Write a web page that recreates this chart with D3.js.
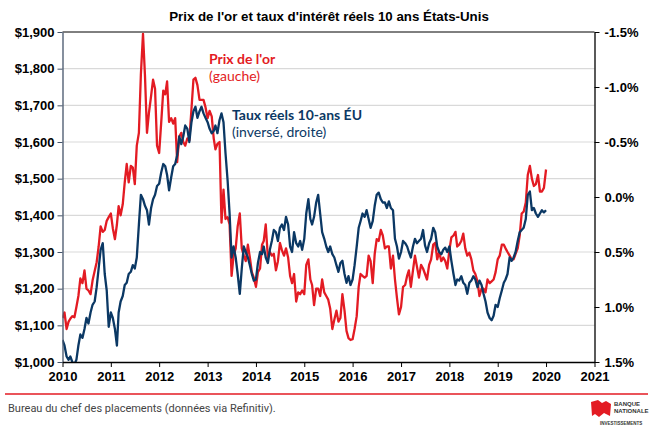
<!DOCTYPE html>
<html>
<head>
<meta charset="utf-8">
<script src="https://cdn.jsdelivr.net/npm/d3@7"></script>
<style>
  body { margin: 0; background: #fff; }
  svg text { font-family: "Liberation Sans", Arial, sans-serif; }
</style>
</head>
<body>
<div id="chart"></div>
<script>
// first year of the semi-monthly series (1st and 16th of each month)
const startYear = 2010;

// gold price, USD/oz, one row per year (24 half-month readings)
const goldPrice = [
  1120, 1135, 1090, 1110, 1118, 1125, 1122, 1150, 1180, 1228, 1215, 1250, 1200, 1195, 1185, 1222, 1248, 1272, 1315, 1370, 1355, 1360, 1385, 1395,
  1405, 1365, 1335, 1375, 1425, 1400, 1430, 1490, 1540, 1490, 1535, 1530, 1485, 1590, 1625, 1785, 1895, 1780, 1625, 1680, 1725, 1770, 1745, 1590,
  1570, 1650, 1740, 1730, 1765, 1655, 1665, 1650, 1665, 1545, 1615, 1625, 1600, 1590, 1610, 1605, 1690, 1770, 1775, 1755, 1715, 1715, 1715, 1695,
  1665, 1685, 1670, 1610, 1580, 1595, 1600, 1380, 1470, 1390, 1395, 1375, 1235, 1290, 1310, 1370, 1405, 1310, 1290, 1275, 1320, 1285, 1245, 1230,
  1205, 1245, 1255, 1320, 1330, 1375, 1285, 1300, 1290, 1295, 1250, 1275, 1325, 1305, 1290, 1310, 1285, 1235, 1215, 1240, 1165, 1190, 1185, 1195,
  1185, 1265, 1280, 1225, 1210, 1155, 1200, 1200, 1180, 1225, 1190, 1180, 1170, 1145, 1090, 1115, 1140, 1110, 1120, 1185, 1140, 1085, 1065, 1060,
  1062, 1090, 1125, 1205, 1240, 1235, 1230, 1235, 1290, 1275, 1215, 1295, 1335, 1330, 1360, 1345, 1310, 1315, 1315, 1255, 1290, 1225, 1175, 1130,
  1150, 1205, 1210, 1235, 1250, 1205, 1250, 1290, 1260, 1230, 1265, 1255, 1240, 1225, 1265, 1280, 1320, 1325, 1280, 1300, 1275, 1285, 1275, 1255,
  1305, 1340, 1345, 1355, 1315, 1320, 1330, 1350, 1310, 1290, 1298, 1280, 1250, 1240, 1220, 1180, 1200, 1200, 1190, 1225, 1215, 1220, 1225, 1245,
  1280, 1290, 1320, 1320, 1310, 1300, 1290, 1280, 1280, 1295, 1310, 1345, 1405, 1410, 1435, 1510, 1535, 1500, 1480, 1485, 1510, 1465, 1465, 1475,
  1525
];

// US 10-year real rate (TIPS), %, same dates
const realRate = [
  1.30, 1.35, 1.45, 1.48, 1.45, 1.50, 1.52, 1.48, 1.35, 1.25, 1.28, 1.20, 1.10, 1.15, 1.05, 0.98, 0.95, 0.82, 0.65, 0.48, 0.42, 0.70, 0.85, 1.18,
  1.05, 1.10, 1.20, 1.35, 1.05, 0.95, 0.90, 0.80, 0.78, 0.70, 0.68, 0.62, 0.65, 0.55, 0.25, -0.02, 0.02, 0.08, 0.12, 0.25, 0.10, 0.02, -0.02, -0.10,
  -0.12, -0.22, -0.30, -0.28, -0.20, -0.06, -0.18, -0.28, -0.30, -0.38, -0.55, -0.48, -0.55, -0.65, -0.62, -0.50, -0.68, -0.78, -0.82, -0.72, -0.78, -0.82, -0.76, -0.72,
  -0.68, -0.62, -0.58, -0.60, -0.65, -0.58, -0.70, -0.76, -0.68, -0.40, -0.15, 0.15, 0.55, 0.45, 0.55, 0.70, 0.88, 0.65, 0.45, 0.50, 0.55, 0.62, 0.70, 0.76,
  0.75, 0.60, 0.50, 0.52, 0.45, 0.55, 0.60, 0.48, 0.40, 0.30, 0.32, 0.40, 0.28, 0.25, 0.30, 0.18, 0.25, 0.45, 0.50, 0.32, 0.42, 0.45, 0.40, 0.48,
  0.38, 0.15, 0.02, 0.20, 0.25, 0.18, 0.05, -0.02, 0.15, 0.32, 0.38, 0.45, 0.50, 0.45, 0.52, 0.55, 0.62, 0.68, 0.60, 0.58, 0.70, 0.78, 0.72, 0.80,
  0.75, 0.62, 0.45, 0.28, 0.22, 0.15, 0.18, 0.12, 0.20, 0.28, 0.22, 0.08, -0.02, -0.04, 0.02, 0.05, 0.05, 0.10, 0.04, 0.10, 0.12, 0.38, 0.45, 0.56,
  0.50, 0.40, 0.42, 0.45, 0.50, 0.55, 0.45, 0.38, 0.42, 0.40, 0.38, 0.30, 0.44, 0.50, 0.42, 0.38, 0.28, 0.32, 0.45, 0.50, 0.52, 0.48, 0.46, 0.50,
  0.45, 0.58, 0.70, 0.80, 0.75, 0.76, 0.72, 0.78, 0.80, 0.88, 0.78, 0.76, 0.72, 0.75, 0.82, 0.76, 0.80, 0.88, 0.95, 1.05, 1.10, 1.12, 1.08, 0.98,
  1.00, 0.92, 0.85, 0.78, 0.75, 0.70, 0.55, 0.58, 0.55, 0.50, 0.40, 0.32, 0.30, 0.28, 0.20, -0.02, -0.05, 0.12, 0.10, 0.15, 0.18, 0.15, 0.12, 0.14,
  0.12
];

const goldTicks = [1000, 1100, 1200, 1300, 1400, 1500, 1600, 1700, 1800, 1900];
const rateTicks = [-1.5, -1.0, -0.5, 0.0, 0.5, 1.0, 1.5];
const yearTicks = [2010, 2011, 2012, 2013, 2014, 2015, 2016, 2017, 2018, 2019, 2020, 2021];

const red = "#e31b23";
const navy = "#0b3864";

const width = 654, height = 432;
const margin = { top: 32, right: 59.5, bottom: 70, left: 62.5 };
const x0 = margin.left, x1 = width - margin.right;
const y0 = margin.top, y1 = height - margin.bottom;

const dates = goldPrice.map((_, i) =>
  new Date(startYear + Math.floor(i / 24), Math.floor((i % 24) / 2), i % 2 ? 16 : 1));

const svg = d3.select("#chart").append("svg")
  .attr("width", width)
  .attr("height", height)
  .attr("viewBox", `0 0 ${width} ${height}`);

const x = d3.scaleTime()
  .domain([new Date(2010, 0, 1), new Date(2021, 0, 1)])
  .range([x0, x1]);
const yGold = d3.scaleLinear().domain([1000, 1900]).range([y1, y0]);
const yRate = d3.scaleLinear().domain([-1.5, 1.5]).range([y0, y1]); // inverted

// title
svg.append("text")
  .attr("x", 329).attr("y", 21)
  .attr("text-anchor", "middle")
  .attr("font-size", 13.3).attr("font-weight", "bold")
  .text("Prix de l'or et taux d'intérêt réels 10 ans États-Unis");

// gridlines
svg.append("g")
  .selectAll("line")
  .data(goldTicks.slice(1, -1))
  .join("line")
  .attr("x1", x0).attr("x2", x1)
  .attr("y1", d => yGold(d)).attr("y2", d => yGold(d))
  .attr("stroke", "#d9d9d9").attr("stroke-width", 1.2);

// top border
svg.append("line")
  .attr("x1", x0).attr("x2", x1).attr("y1", y0).attr("y2", y0)
  .attr("stroke", "#000").attr("stroke-width", 1);

// lines
svg.append("clipPath").attr("id", "plot")
  .append("rect").attr("x", x0).attr("y", y0).attr("width", x1 - x0).attr("height", y1 - y0);

const goldLine = d3.line().x((d, i) => x(dates[i])).y(d => yGold(d));
const rateLine = d3.line().x((d, i) => x(dates[i])).y(d => yRate(d));

svg.append("path")
  .datum(goldPrice)
  .attr("clip-path", "url(#plot)")
  .attr("fill", "none").attr("stroke", red).attr("stroke-width", 2.3)
  .attr("stroke-linejoin", "round")
  .attr("d", goldLine);

svg.append("path")
  .datum(realRate)
  .attr("clip-path", "url(#plot)")
  .attr("fill", "none").attr("stroke", navy).attr("stroke-width", 2.3)
  .attr("stroke-linejoin", "round")
  .attr("d", rateLine);

// axes
const styleAxis = (g, color) => {
  g.select(".domain").attr("stroke", color).attr("stroke-width", 1.3);
  g.selectAll(".tick line").attr("stroke", color);
  g.selectAll(".tick text")
    .attr("fill", "#000").attr("font-size", 13).attr("font-weight", "bold")
    .attr("font-family", "Liberation Sans, Arial, sans-serif");
};

svg.append("g")
  .attr("transform", `translate(${x0},0)`)
  .call(d3.axisLeft(yGold).tickValues(goldTicks).tickSize(5).tickSizeOuter(0).tickPadding(3)
    .tickFormat(d => "$" + d3.format(",")(d)))
  .call(g => styleAxis(g, "#44546a"));

svg.append("g")
  .attr("transform", `translate(${x1},0)`)
  .call(d3.axisRight(yRate).tickValues(rateTicks).tickSize(5).tickSizeOuter(0).tickPadding(5)
    .tickFormat(d => d.toFixed(1) + "%"))
  .call(g => styleAxis(g, "#000"));

svg.append("g")
  .attr("transform", `translate(0,${y1})`)
  .call(d3.axisBottom(x).tickValues(yearTicks.map(y => new Date(y, 0, 1))).tickSize(5)
    .tickSizeOuter(0).tickPadding(5).tickFormat(d3.timeFormat("%Y")))
  .call(g => styleAxis(g, "#000"));

// labels in plot
const legend = [
  { text: "Prix de l'or", x: 209, y: 64, color: red, weight: "bold" },
  { text: "(gauche)", x: 209, y: 81, color: red, weight: "normal" },
  { text: "Taux réels 10-ans ÉU", x: 232, y: 120, color: navy, weight: "bold" },
  { text: "(inversé, droite)", x: 232, y: 137, color: navy, weight: "normal" }
];
svg.append("g")
  .selectAll("text")
  .data(legend)
  .join("text")
  .attr("x", d => d.x).attr("y", d => d.y)
  .attr("fill", d => d.color)
  .attr("font-weight", d => d.weight)
  .attr("font-size", 14)
  .style("font-family", "Lato, 'Open Sans', sans-serif")
  .text(d => d.text);

// footer
svg.append("line")
  .attr("x1", 5).attr("x2", 648).attr("y1", 394).attr("y2", 394)
  .attr("stroke", red).attr("stroke-width", 1.5);

svg.append("text")
  .attr("x", 8).attr("y", 412)
  .attr("font-size", 11).attr("fill", "#444")
  .style("font-family", "Roboto, sans-serif")
  .text("Bureau du chef des placements (données via Refinitiv).");

// logo
svg.append("path")
  .attr("d", "M591,402 L598,400 L602,403 L606,401 L611,404 L610,416 L604,413 L599,417 L595,414 L592,416 Z")
  .attr("fill", red);
svg.append("text").attr("x", 614).attr("y", 406)
  .attr("font-size", 6).attr("font-weight", "bold").attr("fill", "#333").text("BANQUE");
svg.append("text").attr("x", 614).attr("y", 413)
  .attr("font-size", 6).attr("font-weight", "bold").attr("fill", "#333").text("NATIONALE");
svg.append("text").attr("x", 600).attr("y", 425)
  .attr("font-size", 4.5).attr("font-weight", "bold").attr("fill", "#333").text("INVESTISSEMENTS");
</script>
</body>
</html>
